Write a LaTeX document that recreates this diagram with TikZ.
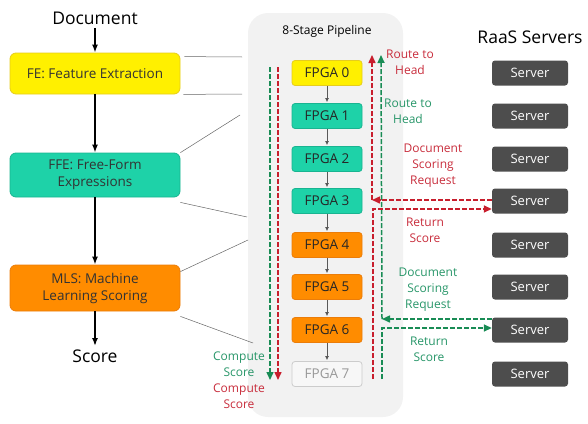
\documentclass[tikz,border=0pt]{standalone}
\usepackage{fontspec}
\setmainfont{Open Sans}
\usetikzlibrary{arrows.meta}
\definecolor{feyellow}{RGB}{255,240,0}
\definecolor{feyellowb}{RGB}{230,205,30}
\definecolor{ffeteal}{RGB}{30,210,168}
\definecolor{ffetealb}{RGB}{25,180,145}
\definecolor{mlsorange}{RGB}{255,140,0}
\definecolor{mlsorangeb}{RGB}{235,125,10}
\definecolor{servgray}{RGB}{77,77,77}
\definecolor{pipegray}{RGB}{242,242,242}
\definecolor{routered}{RGB}{200,30,45}
\definecolor{routegreen}{RGB}{25,140,85}
\definecolor{labred}{RGB}{200,45,60}
\definecolor{labgreen}{RGB}{40,150,105}
\begin{document}
\begin{tikzpicture}[x=1pt,y=-1pt,>={Triangle[length=8pt,width=7pt]}]
	\def \leftcol{95}
	\def \pipecol{327}
	\def \servcol{530}
	\tikzstyle{l-node}=[rectangle,rounded corners=6pt,draw,thick,minimum width=170pt,align=center,text=black!80,font=\fontsize{13.5}{17}\selectfont]
	\tikzstyle{f-node}=[rectangle,rounded corners=3pt,draw,thick,minimum width=70pt,minimum height=25pt,text=black!85,font=\fontsize{13.5}{16}\selectfont]
	\tikzstyle{s-node}=[rectangle,rounded corners=3pt,fill=servgray,text=white,minimum width=76pt,minimum height=25pt,font=\fontsize{13}{16}\selectfont]
	\tikzstyle{big}=[font=\fontsize{17.5}{20}\selectfont]
	\tikzstyle{lab}=[align=center,font=\fontsize{12}{16}\selectfont]
	\tikzstyle{red-path}=[draw=routered,line width=1.5pt,dash pattern=on 5pt off 2pt]
	\tikzstyle{green-path}=[draw=routegreen,line width=1.5pt,dash pattern=on 5pt off 2pt]
	\tikzstyle{zoom-line}=[draw=black!60,line width=0.5pt]
	\tikzstyle{step-arrow}=[-{Latex[length=4pt,width=4pt]},draw=black!65,line width=0.8pt,shorten >=1pt]
	\tikzstyle{flow-arrow}=[-{Latex[length=8pt,width=6pt]},draw=black,line width=1.6pt]
	\useasboundingbox (0,0) rectangle (588,423);

	% pipeline background
	\node[rectangle,rounded corners=20pt,fill=pipegray,minimum width=155pt,minimum height=404pt] (pipe) at (325.5,215) {};
	\node[font=\fontsize{12}{14}\selectfont] (pipe-title) at (\pipecol,31) {8-Stage Pipeline};
	\node[big] (raas) at (\servcol,37) {RaaS Servers};

	% software stages
	\node[big] 	(doc)	at (\leftcol,18)		{Document};
	\node[l-node,fill=feyellow,draw=feyellowb,minimum height=41pt] 	(fe)	at (\leftcol,73.5)	{FE: Feature Extraction};
	\node[l-node,fill=ffeteal,draw=ffetealb,minimum height=44pt] 	(ffe)	at (\leftcol,175)	{FFE: Free-Form\\Expressions};
	\node[l-node,fill=mlsorange,draw=mlsorangeb,minimum height=46pt] 	(mls)	at (\leftcol,288)	{MLS: Machine\\Learning Scoring};
	\node[big] 	(score)	at (\leftcol,356)	{Score};

	% fpga stages
	\node[f-node,fill=feyellow,draw=feyellowb] 	(f0)	at (\pipecol,73)	{FPGA 0};
	\node[f-node,fill=ffeteal,draw=ffetealb] 	(f1)	at (\pipecol,116)	{FPGA 1};
	\node[f-node,fill=ffeteal,draw=ffetealb] 	(f2)	at (\pipecol,159)	{FPGA 2};
	\node[f-node,fill=ffeteal,draw=ffetealb] 	(f3)	at (\pipecol,201)	{FPGA 3};
	\node[f-node,fill=mlsorange,draw=mlsorangeb] 	(f4)	at (\pipecol,245)	{FPGA 4};
	\node[f-node,fill=mlsorange,draw=mlsorangeb] 	(f5)	at (\pipecol,287)	{FPGA 5};
	\node[f-node,fill=mlsorange,draw=mlsorangeb] 	(f6)	at (\pipecol,330)	{FPGA 6};
	\node[f-node,fill=black!3,draw=black!20,text=black!40] 	(f7)	at (\pipecol,374)	{FPGA 7};

	% servers
	\node[s-node] 	(s0)	at (\servcol,73)	{Server};
	\node[s-node] 	(s1)	at (\servcol,116)	{Server};
	\node[s-node] 	(s2)	at (\servcol,159)	{Server};
	\node[s-node] 	(s3)	at (\servcol,201)	{Server};
	\node[s-node] 	(s4)	at (\servcol,245)	{Server};
	\node[s-node] 	(s5)	at (\servcol,287)	{Server};
	\node[s-node] 	(s6)	at (\servcol,330)	{Server};
	\node[s-node] 	(s7)	at (\servcol,374)	{Server};

	% route labels
	\node[lab,text=labred] 	(l-rh)	at (410,62)	{Route to\\Head};
	\node[lab,text=labgreen] 	(l-gh)	at (408,111)	{Route to\\Head};
	\node[lab,text=labred] 	(l-rq)	at (433,166)	{Document\\Scoring\\Request};
	\node[lab,text=labred] 	(l-rs)	at (425,230)	{Return\\Score};
	\node[lab,text=labgreen] 	(l-gq)	at (428,290)	{Document\\Scoring\\Request};
	\node[lab,text=labgreen] 	(l-gs)	at (429,349)	{Return\\Score};
	\node[lab,text=labgreen] 	(l-gc)	at (239,364)	{Compute\\Score};
	\node[lab,text=labred] 	(l-rc)	at (239,396)	{Compute\\Score};

	% route corners
	\coordinate (gl-top) at (270,67);
	\coordinate (gl-bot) at (270,380);
	\coordinate (rl-top) at (278,67);
	\coordinate (rl-bot) at (278,380);
	\coordinate (rr-top) at (372,55);
	\coordinate (rr-in) at (372,200);
	\coordinate (rr-out) at (373,209);
	\coordinate (rr-bot) at (373,379);
	\coordinate (gr-top) at (381,55);
	\coordinate (gr-in) at (382,319);
	\coordinate (gr-out) at (382,328);
	\coordinate (gr-bot) at (382,379);

	% zoom lines
	\coordinate (z0) at (242,57);
	\coordinate (z1) at (242,94);
	\coordinate (z2) at (240,115);
	\coordinate (z3) at (247,217);
	\coordinate (z4) at (248,240);
	\coordinate (z5) at (253,343);
	\draw[zoom-line] ([xshift=4pt,yshift=-4pt]fe.north east) -- (z0);
	\draw[zoom-line] ([xshift=3pt]fe.south east) -- (z1);
	\draw[zoom-line] (ffe.north east) -- (z2);
	\draw[zoom-line] ([yshift=-5pt]ffe.south east) -- (z3);
	\draw[zoom-line] ([yshift=-7pt]mls.north east) -- (z4);
	\draw[zoom-line] ([yshift=-5pt]mls.south east) -- (z5);

	% software flow
	\path[flow-arrow]
		(doc)	edge	(fe)
		(fe)	edge	(ffe)
		(ffe)	edge	(mls)
		(mls)	edge	(score);

	% fpga flow
	\path[step-arrow]
		(f0)	edge	(f1)
		(f1)	edge	(f2)
		(f2)	edge	(f3)
		(f3)	edge	(f4)
		(f4)	edge	(f5)
		(f5)	edge	(f6)
		(f6)	edge	(f7);

	% routes
	\draw[green-path,->] (gl-top) -- (gl-bot);
	\draw[red-path,->] (rl-top) -- (rl-bot);
	\draw[red-path,->] (rr-in) -- (rr-top);
	\draw[green-path,->] (gr-in) -- (gr-top);
	\draw[red-path,->] (s3.west |- rr-in) -- (rr-in);
	\draw[red-path,->] (rr-bot) -- (rr-out) -- (s3.west |- rr-out);
	\draw[green-path,->] (s6.west |- gr-in) -- (gr-in);
	\draw[green-path,->] (gr-bot) -- (gr-out) -- (s6.west |- gr-out);
\end{tikzpicture}
\end{document}
